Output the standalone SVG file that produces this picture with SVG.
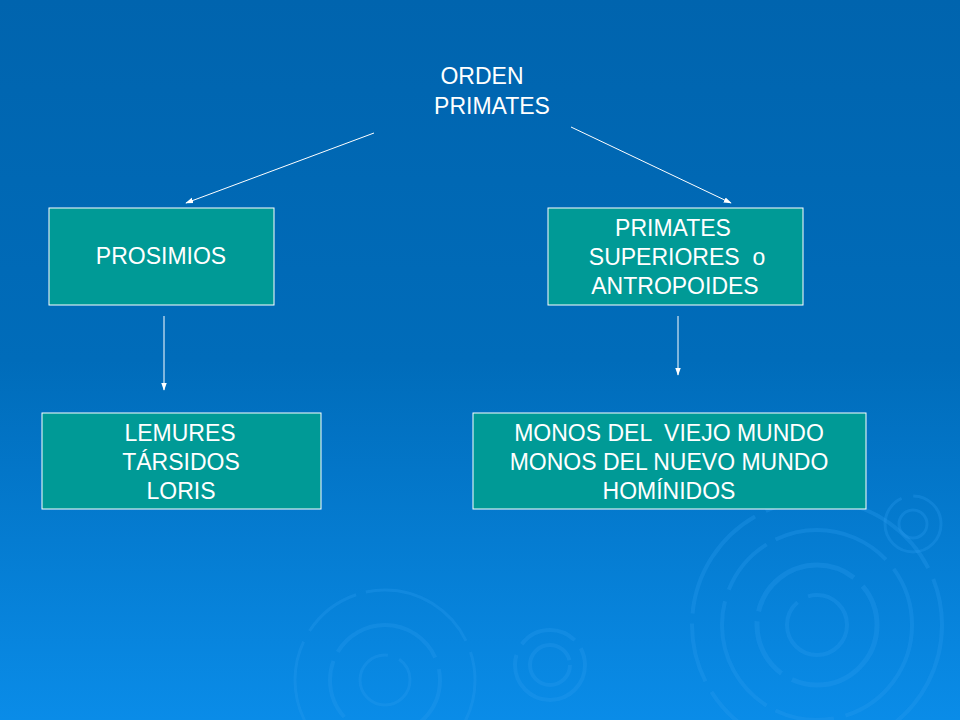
<svg xmlns="http://www.w3.org/2000/svg" width="960" height="720" viewBox="0 0 960 720">
<defs>
<linearGradient id="bg" x1="0" y1="0" x2="0" y2="1">
<stop offset="0" stop-color="#0064ae"/><stop offset="0.5" stop-color="#006cba"/><stop offset="1" stop-color="#0a8ce8"/>
</linearGradient>
<marker id="ah" viewBox="0 0 10 10" refX="9" refY="5" markerWidth="8" markerHeight="8" orient="auto"><path d="M0,1.5 L10,5 L0,8.5 z" fill="#fff"/></marker>
<style>
.box{fill:#009a96;stroke:#fff;stroke-width:1}
.t{font-family:"Liberation Sans",Arial,sans-serif;font-size:23px;fill:#fff;text-anchor:middle;white-space:pre}
.c{stroke:#fff;stroke-width:1;fill:none;marker-end:url(#ah)}
.r{fill:none;stroke:#2a9af0;stroke-opacity:0.3;stroke-dasharray:120 12 60 10}
</style>
</defs>
<rect width="960" height="720" fill="url(#bg)"/>
<g id="ripples">
<circle class="r" cx="817" cy="625" r="125" stroke-width="4"/><circle class="r" cx="817" cy="625" r="95" stroke-width="4"/><circle class="r" cx="817" cy="625" r="60" stroke-width="5"/><circle class="r" cx="817" cy="625" r="30" stroke-width="4"/>
<circle class="r" cx="550" cy="665" r="35" stroke-width="4"/><circle class="r" cx="550" cy="665" r="20" stroke-width="4"/>
<circle class="r" cx="385" cy="680" r="55" stroke-width="4"/><circle class="r" cx="385" cy="680" r="90" stroke-width="3"/><circle class="r" cx="385" cy="680" r="25" stroke-width="3"/>
<circle class="r" cx="913" cy="524" r="28" stroke-width="3"/><circle class="r" cx="913" cy="524" r="14" stroke-width="3"/>
</g>
<g id="root"><text class="t" x="482" y="84">ORDEN</text><text class="t" x="492" y="114">PRIMATES</text></g>
<g id="prosimios"><rect class="box" x="49" y="208" width="225" height="97"/><text class="t" x="161" y="264">PROSIMIOS</text></g>
<g id="antropoides"><rect class="box" x="548" y="208" width="255" height="97"/><text class="t" x="673" y="236">PRIMATES</text><text class="t" x="677" y="265">SUPERIORES  o</text><text class="t" x="675" y="294">ANTROPOIDES</text></g>
<g id="lemures"><rect class="box" x="42" y="413" width="279" height="96"/><text class="t" x="180" y="441">LEMURES</text><text class="t" x="181" y="470">TÁRSIDOS</text><text class="t" x="181" y="499">LORIS</text></g>
<g id="monos"><rect class="box" x="473" y="413" width="393" height="96"/><text class="t" x="669" y="441">MONOS DEL  VIEJO MUNDO</text><text class="t" x="669" y="470">MONOS DEL NUEVO MUNDO</text><text class="t" x="669" y="499">HOMÍNIDOS</text></g>
<g id="connectors">
<line class="c" x1="374" y1="133" x2="186" y2="203"/>
<line class="c" x1="571" y1="127" x2="731" y2="203"/>
<line class="c" x1="164" y1="316" x2="164" y2="390"/>
<line class="c" x1="678" y1="316" x2="678" y2="375"/>
</g>
</svg>
